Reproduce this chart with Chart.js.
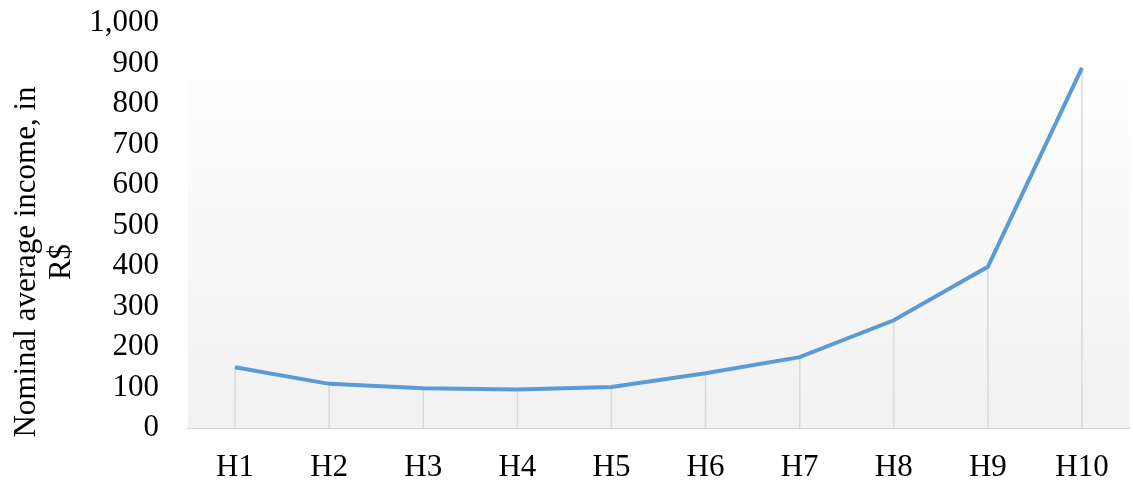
<!DOCTYPE html>
<html>
<head>
<meta charset="utf-8">
<script src="https://cdn.jsdelivr.net/npm/chart.js@4"></script>
<style>
  html, body { margin: 0; padding: 0; background: #fff; }
</style>
</head>
<body>
<canvas id="incomeChart" width="1133" height="485"></canvas>
<script>
var categories = ['H1', 'H2', 'H3', 'H4', 'H5', 'H6', 'H7', 'H8', 'H9', 'H10'];
var incomeValues = [150, 109, 98, 95, 101, 135, 175, 266, 398, 889];
var yTitleLines = ['Nominal average income, in', 'R$'];

var serif = "'Liberation Serif', 'Times New Roman', serif";

// gradient plot background + drop lines from each point to the axis
var decorPlugin = {
    id: 'decor',
    beforeDatasetsDraw: function (chart) {
        var ctx = chart.ctx, a = chart.chartArea;
        var top = a.top + 53;
        var g = ctx.createLinearGradient(0, top, 0, a.bottom);
        g.addColorStop(0, '#fefefe');
        g.addColorStop(1, '#f1f1f1');
        ctx.save();
        ctx.fillStyle = g;
        ctx.fillRect(a.left, top, a.right - a.left, a.bottom - top);
        ctx.strokeStyle = '#d9d9d9';
        ctx.lineWidth = 1.5;
        chart.getDatasetMeta(0).data.forEach(function (pt) {
            ctx.beginPath();
            ctx.moveTo(pt.x, pt.y);
            ctx.lineTo(pt.x, a.bottom);
            ctx.stroke();
        });
        ctx.restore();
    },
    afterDraw: function (chart) {
        var ctx = chart.ctx;
        ctx.save();
        ctx.translate(27, 262);
        ctx.rotate(-Math.PI / 2);
        ctx.font = '31px ' + serif;
        ctx.fillStyle = '#000';
        ctx.textAlign = 'center';
        ctx.textBaseline = 'middle';
        ctx.fillText(yTitleLines[0], 0, 0);
        ctx.fillText(yTitleLines[1], 0, 35);
        ctx.restore();
    }
};

new Chart(document.getElementById('incomeChart').getContext('2d'), {
    type: 'line',
    data: {
        labels: categories,
        datasets: [{
            data: incomeValues,
            borderColor: '#5b9bd5',
            borderWidth: 4,
            pointRadius: 0,
            tension: 0,
            fill: false
        }]
    },
    options: {
        responsive: false,
        animation: false,
        layout: { padding: { top: 23, right: 4, left: 0, bottom: 0 } },
        plugins: {
            legend: { display: false },
            tooltip: { enabled: false }
        },
        scales: {
            x: {
                offset: true,
                grid: { display: false },
                border: { display: true, color: '#d9d9d9', width: 2 },
                ticks: {
                    color: '#000',
                    font: { family: serif, size: 31 },
                    padding: 13,
                    autoSkip: false,
                    maxRotation: 0
                },
                afterFit: function (scale) {
                    scale.height = 57;
                    scale.paddingLeft = 0;
                    scale.paddingRight = 0;
                }
            },
            y: {
                min: 0,
                max: 1000,
                grid: { display: false, drawTicks: false },
                border: { display: false },
                ticks: {
                    stepSize: 100,
                    autoSkip: false,
                    color: '#000',
                    font: { family: serif, size: 31 },
                    padding: 29,
                    callback: function (v) { return v.toLocaleString('en-US'); }
                },
                afterFit: function (scale) {
                    scale.width = 188;
                    scale.paddingTop = 0;
                    scale.paddingBottom = 0;
                }
            }
        }
    },
    plugins: [decorPlugin]
});
</script>
</body>
</html>
